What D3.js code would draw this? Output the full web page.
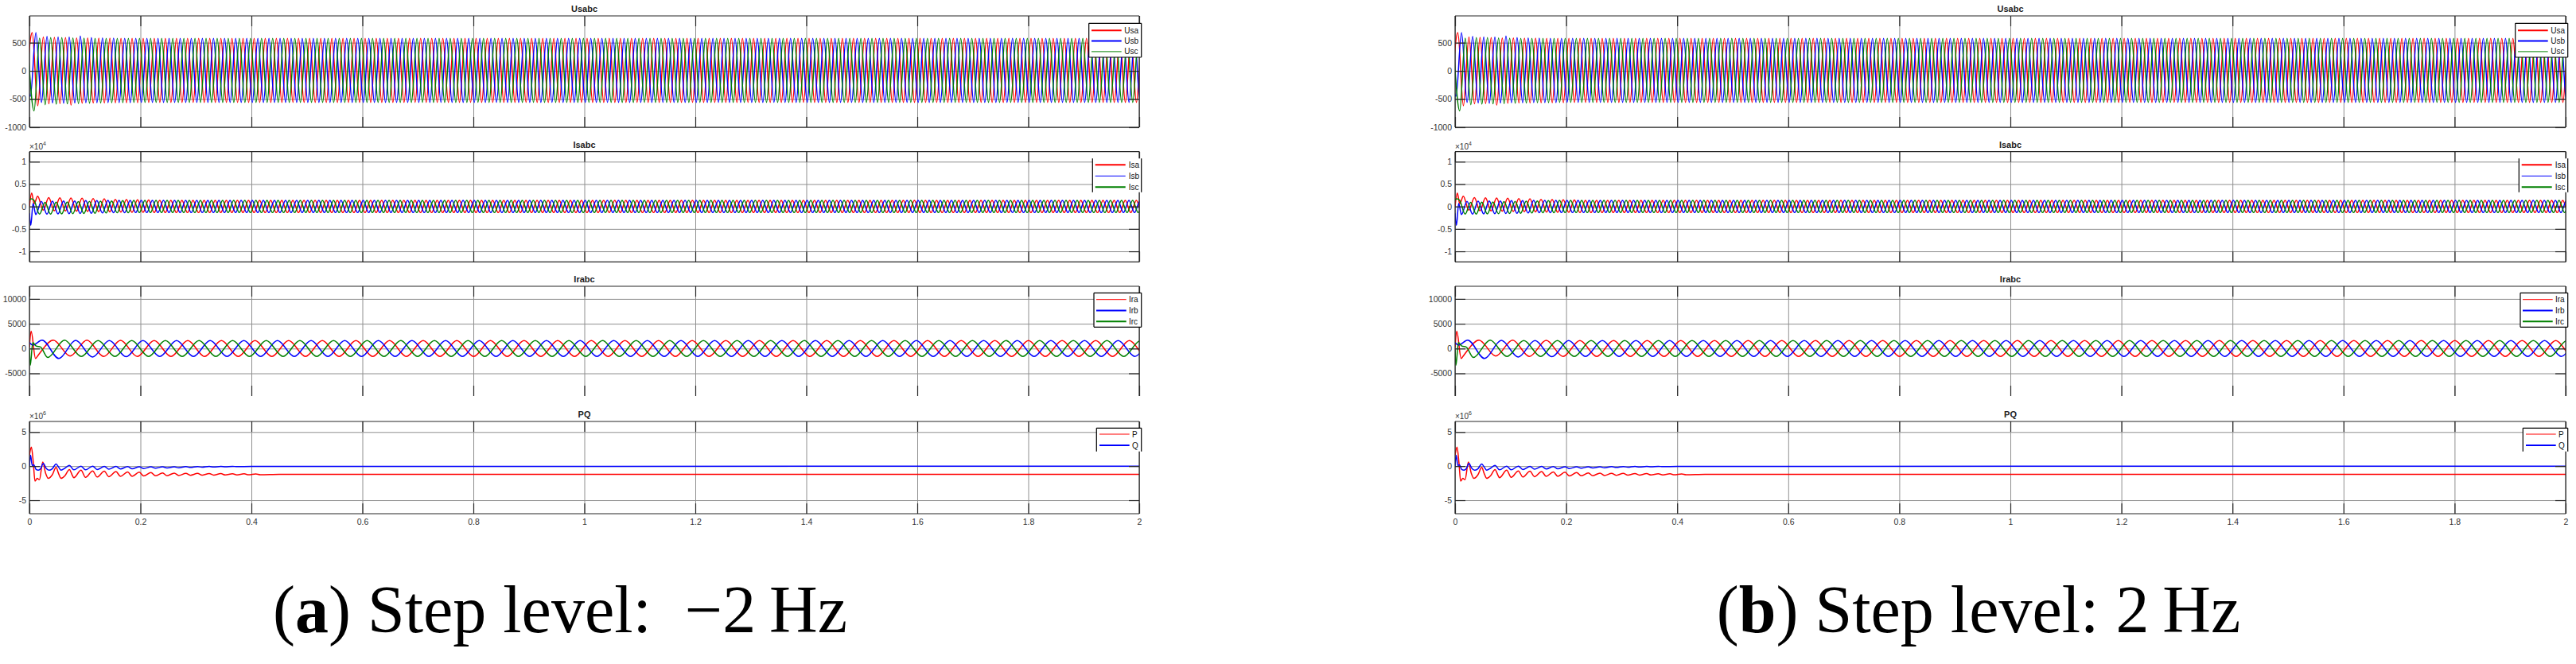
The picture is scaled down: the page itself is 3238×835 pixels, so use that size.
<!DOCTYPE html>
<html>
<head>
<meta charset="utf-8">
<script src="https://cdn.jsdelivr.net/npm/d3@7"></script>
<style>
html,body{margin:0;padding:0;background:#fff;}
svg{display:block;}
</style>
</head>
<body>
<svg id="chart" width="3238" height="835"></svg>
<script>
// ===================== DATA =====================
const xTicks = [0, 0.2, 0.4, 0.6, 0.8, 1, 1.2, 1.4, 1.6, 1.8, 2];
const xTickLabels = ["0","0.2","0.4","0.6","0.8","1","1.2","1.4","1.6","1.8","2"];
const panelTitles = ["Usabc", "Isabc", "Irabc", "PQ"];
const usTicks = [-1000, -500, 0, 500];
const isTicks = [-1, -0.5, 0, 0.5, 1];       // x10^4
const irTicks = [-5000, 0, 5000, 10000];
const pqTicks = [-5, 0, 5];                  // x10^6
const usNames = ["Usa", "Usb", "Usc"];
const isNames = ["Isa", "Isb", "Isc"];
const irNames = ["Ira", "Irb", "Irc"];
const pqNames = ["P", "Q"];
const captionLabels = ["a", "b"];
const captionTexts = ["Step level:\u2002\u22122\u2009Hz", "Step level: 2\u2009Hz"];

// Stator voltages: successive extrema, one every half period (0.01 s)
const usHalf = 0.01;
const usaFirst = -0.005, usbFirst = -0.00833, uscFirst = -0.00167;
const usaVals = [-180,680,-620,600,-585,595,-580,590,-610,585,-575,585,-570,580,-570,580,-565,578,-565,575,-563,
575,-560,575,-560,575,-560,575,-560,575,-560,575,-560,575,-560,575,-560,575,-560,575,-560,
575,-560,575,-560,575,-560,575,-560,575,-560,575,-560,575,-560,575,-560,575,-560,575,-560,
575,-560,575,-560,575,-560,575,-560,575,-560,575,-560,575,-560,575,-560,575,-560,575,-560,
575,-560,575,-560,575,-560,575,-560,575,-560,575,-560,575,-560,575,-560,575,-560,575,-560,
575,-560,575,-560,575,-560,575,-560,575,-560,575,-560,575,-560,575,-560,575,-560,575,-560,
575,-560,575,-560,575,-560,575,-560,575,-560,575,-560,575,-560,575,-560,575,-560,575,-560,
575,-560,575,-560,575,-560,575,-560,575,-560,575,-560,575,-560,575,-560,575,-560,575,-560,
575,-560,575,-560,575,-560,575,-560,575,-560,575,-560,575,-560,575,-560,575,-560,575,-560,
575,-560,575,-560,575,-560,575,-560,575,-560,575,-560,575,-560,575,-560,575,-560,575,-560,
575,-560,575];
const usbVals = [200,-450,680,-560,610,-570,600,-575,600,-570,620,-565,590,-565,585,-563,580,-563,578,-563,575,
-560,575,-560,575,-560,575,-560,575,-560,575,-560,575,-560,575,-560,575,-560,575,-560,575,
-560,575,-560,575,-560,575,-560,575,-560,575,-560,575,-560,575,-560,575,-560,575,-560,575,
-560,575,-560,575,-560,575,-560,575,-560,575,-560,575,-560,575,-560,575,-560,575,-560,575,
-560,575,-560,575,-560,575,-560,575,-560,575,-560,575,-560,575,-560,575,-560,575,-560,575,
-560,575,-560,575,-560,575,-560,575,-560,575,-560,575,-560,575,-560,575,-560,575,-560,575,
-560,575,-560,575,-560,575,-560,575,-560,575,-560,575,-560,575,-560,575,-560,575,-560,575,
-560,575,-560,575,-560,575,-560,575,-560,575,-560,575,-560,575,-560,575,-560,575,-560,575,
-560,575,-560,575,-560,575,-560,575,-560,575,-560,575,-560,575,-560,575,-560,575,-560,575,
-560,575,-560,575,-560,575,-560,575,-560,575,-560,575,-560,575,-560,575,-560,575,-560,575,
-560,575,-560];
const uscVals = [250,-710,580,-600,590,-590,590,-585,585,-580,580,-575,578,-570,575,-565,575,-563,575,-560,575,
-560,575,-560,575,-560,575,-560,575,-560,575,-560,575,-560,575,-560,575,-560,575,-560,575,
-560,575,-560,575,-560,575,-560,575,-560,575,-560,575,-560,575,-560,575,-560,575,-560,575,
-560,575,-560,575,-560,575,-560,575,-560,575,-560,575,-560,575,-560,575,-560,575,-560,575,
-560,575,-560,575,-560,575,-560,575,-560,575,-560,575,-560,575,-560,575,-560,575,-560,575,
-560,575,-560,575,-560,575,-560,575,-560,575,-560,575,-560,575,-560,575,-560,575,-560,575,
-560,575,-560,575,-560,575,-560,575,-560,575,-560,575,-560,575,-560,575,-560,575,-560,575,
-560,575,-560,575,-560,575,-560,575,-560,575,-560,575,-560,575,-560,575,-560,575,-560,575,
-560,575,-560,575,-560,575,-560,575,-560,575,-560,575,-560,575,-560,575,-560,575,-560,575,
-560,575,-560,575,-560,575,-560,575,-560,575,-560,575,-560,575,-560,575,-560,575,-560,575,
-560,575,-560];

// Stator currents (A): start-up points, then extrema every 0.01 s
const isHalf = 0.01;
const isaHead = [[0,0],[0.004,3000],[0.0085,600]];
const isbHead = [[0,-1500],[0.0025,-4200],[0.0065,700]];
const iscHead = [[0,1500],[0.003,1700]];
const isaFirst = 0.0148, isbFirst = 0.0115, iscFirst = 0.0081;
const isaVals = [2300,-800,2000,-950,1950,-1000,1900,-1050,1850,-1100,1750,-1150,1700,-1200,1600,-1250,1550,-1300,1500,-1300,1450,
-1350,1350,-1350,1350,-1350,1350,-1350,1350,-1350,1350,-1350,1350,-1350,1350,-1350,1350,-1350,1350,-1350,1350,
-1350,1350,-1350,1350,-1350,1350,-1350,1350,-1350,1350,-1350,1350,-1350,1350,-1350,1350,-1350,1350,-1350,1350,
-1350,1350,-1350,1350,-1350,1350,-1350,1350,-1350,1350,-1350,1350,-1350,1350,-1350,1350,-1350,1350,-1350,1350,
-1350,1350,-1350,1350,-1350,1350,-1350,1350,-1350,1350,-1350,1350,-1350,1350,-1350,1350,-1350,1350,-1350,1350,
-1350,1350,-1350,1350,-1350,1350,-1350,1350,-1350,1350,-1350,1350,-1350,1350,-1350,1350,-1350,1350,-1350,1350,
-1350,1350,-1350,1350,-1350,1350,-1350,1350,-1350,1350,-1350,1350,-1350,1350,-1350,1350,-1350,1350,-1350,1350,
-1350,1350,-1350,1350,-1350,1350,-1350,1350,-1350,1350,-1350,1350,-1350,1350,-1350,1350,-1350,1350,-1350,1350,
-1350,1350,-1350,1350,-1350,1350,-1350,1350,-1350,1350,-1350,1350,-1350,1350,-1350,1350,-1350,1350,-1350,1350,
-1350,1350,-1350,1350,-1350,1350,-1350,1350,-1350,1350,-1350,1350,-1350,1350,-1350,1350,-1350,1350,-1350,1350,
-1350,1350];
const isbVals = [-1800,1150,-1700,1200,-1650,1250,-1600,1250,-1550,1300,-1500,1300,-1450,1350,-1400,1350,-1400,1350,-1350,1350,
-1350,1350,-1350,1350,-1350,1350,-1350,1350,-1350,1350,-1350,1350,-1350,1350,-1350,1350,-1350,1350,-1350,1350,
-1350,1350,-1350,1350,-1350,1350,-1350,1350,-1350,1350,-1350,1350,-1350,1350,-1350,1350,-1350,1350,-1350,1350,
-1350,1350,-1350,1350,-1350,1350,-1350,1350,-1350,1350,-1350,1350,-1350,1350,-1350,1350,-1350,1350,-1350,1350,
-1350,1350,-1350,1350,-1350,1350,-1350,1350,-1350,1350,-1350,1350,-1350,1350,-1350,1350,-1350,1350,-1350,1350,
-1350,1350,-1350,1350,-1350,1350,-1350,1350,-1350,1350,-1350,1350,-1350,1350,-1350,1350,-1350,1350,-1350,1350,
-1350,1350,-1350,1350,-1350,1350,-1350,1350,-1350,1350,-1350,1350,-1350,1350,-1350,1350,-1350,1350,-1350,1350,
-1350,1350,-1350,1350,-1350,1350,-1350,1350,-1350,1350,-1350,1350,-1350,1350,-1350,1350,-1350,1350,-1350,1350,
-1350,1350,-1350,1350,-1350,1350,-1350,1350,-1350,1350,-1350,1350,-1350,1350,-1350,1350,-1350,1350,-1350,1350,
-1350,1350,-1350,1350,-1350,1350,-1350,1350,-1350,1350,-1350,1350,-1350,1350,-1350,1350,-1350,1350,-1350,1350,
-1350,1350];
const iscVals = [1400,-1700,900,-1700,950,-1650,1000,-1600,1100,-1550,1150,-1500,1200,-1450,1250,-1400,1300,-1400,1350,-1350,
1350,-1350,1350,-1350,1350,-1350,1350,-1350,1350,-1350,1350,-1350,1350,-1350,1350,-1350,1350,-1350,1350,-1350,
1350,-1350,1350,-1350,1350,-1350,1350,-1350,1350,-1350,1350,-1350,1350,-1350,1350,-1350,1350,-1350,1350,-1350,
1350,-1350,1350,-1350,1350,-1350,1350,-1350,1350,-1350,1350,-1350,1350,-1350,1350,-1350,1350,-1350,1350,-1350,
1350,-1350,1350,-1350,1350,-1350,1350,-1350,1350,-1350,1350,-1350,1350,-1350,1350,-1350,1350,-1350,1350,-1350,
1350,-1350,1350,-1350,1350,-1350,1350,-1350,1350,-1350,1350,-1350,1350,-1350,1350,-1350,1350,-1350,1350,-1350,
1350,-1350,1350,-1350,1350,-1350,1350,-1350,1350,-1350,1350,-1350,1350,-1350,1350,-1350,1350,-1350,1350,-1350,
1350,-1350,1350,-1350,1350,-1350,1350,-1350,1350,-1350,1350,-1350,1350,-1350,1350,-1350,1350,-1350,1350,-1350,
1350,-1350,1350,-1350,1350,-1350,1350,-1350,1350,-1350,1350,-1350,1350,-1350,1350,-1350,1350,-1350,1350,-1350,
1350,-1350,1350,-1350,1350,-1350,1350,-1350,1350,-1350,1350,-1350,1350,-1350,1350,-1350,1350,-1350,1350,-1350,
1350,-1350,1350];

// Rotor currents (A): start-up points, then extrema every half rotor period
const irHalf = 0.0303;
const iraHead = [[0,300],[0.003,3500],[0.011,-2000],[0.016,-1300]];
const irbHead = [[0,1200],[0.006,700]];
const ircHead = [[0,-200],[0.0015,-3400],[0.006,1200],[0.012,500],[0.02,300]];
const iraFirst = 0.043, irbFirst = 0.0228, ircFirst = 0.0329;
const iraVals = [1700,-1500,1700,-1600,1650,
-1600,1600,-1600,1600,-1600,1600,-1600,1600,-1600,1600,-1600,1600,-1600,1600,-1600,1600,-1600,1600,-1600,1600,
-1600,1600,-1600,1600,-1600,1600,-1600,1600,-1600,1600,-1600,1600,-1600,1600,-1600,1600,-1600,1600,-1600,1600,
-1600,1600,-1600,1600,-1600,1600,-1600,1600,-1600,1600,-1600,1600,-1600,1600,-1600,1600,-1600,1600,-1600,1600,
-1600,1600,-1600];
const irbVals = [1700,-2000,1650,-1700,1600,-1650,
1600,-1600,1600,-1600,1600,-1600,1600,-1600,1600,-1600,1600,-1600,1600,-1600,1600,-1600,1600,-1600,1600,-1600,
1600,-1600,1600,-1600,1600,-1600,1600,-1600,1600,-1600,1600,-1600,1600,-1600,1600,-1600,1600,-1600,1600,-1600,
1600,-1600,1600,-1600,1600,-1600,1600,-1600,1600,-1600,1600,-1600,1600,-1600,1600,-1600,1600,-1600,1600,-1600,
1600,-1600,1600];
const ircVals = [-1800,1700,-1600,
1600,-1600,1600,-1600,1600,-1600,1600,-1600,1600,-1600,1600,-1600,1600,-1600,1600,-1600,1600,-1600,1600,-1600,
1600,-1600,1600,-1600,1600,-1600,1600,-1600,1600,-1600,1600,-1600,1600,-1600,1600,-1600,1600,-1600,1600,-1600,
1600,-1600,1600,-1600,1600,-1600,1600,-1600,1600,-1600,1600,-1600,1600,-1600,1600,-1600,1600,-1600,1600,-1600,
1600,-1600,1600,-1600];

// Active / reactive power (x10^6): [time s, value]
const pPoints = [[0,1.6],[0.0035,2.8],[0.007,0.5],[0.010,-2.2],[0.014,-1.8],[0.018,-2.0],[0.024,0.6],[0.029,-1.0],
[0.034,-1.8],[0.041,-1.3],[0.048,-0.2],[0.053,-1.2],[0.057,-1.8],[0.064,-1.4],[0.072,-0.5],[0.077,-1.3],[0.080,-1.7],
[0.093,-0.6],[0.101,-1.65],[0.114,-0.7],[0.122,-1.6],[0.135,-0.75],[0.143,-1.55],[0.156,-0.8],[0.164,-1.5],
[0.177,-0.85],[0.185,-1.5],[0.198,-0.9],[0.206,-1.45],[0.219,-0.95],[0.227,-1.42],[0.240,-1.0],[0.248,-1.4],
[0.261,-1.02],[0.269,-1.38],[0.282,-1.05],[0.290,-1.35],[0.303,-1.07],[0.311,-1.33],[0.324,-1.08],[0.332,-1.32],
[0.345,-1.1],[0.353,-1.3],[0.366,-1.12],[0.374,-1.28],[0.387,-1.13],[0.395,-1.27],[0.408,-1.14],[0.416,-1.26],
[0.45,-1.2],[2.0,-1.2]];
const qPoints = [[0,0],[0.002,1.6],[0.005,0.1],[0.008,0.2],[0.012,-0.5],[0.016,-0.6],[0.020,-0.4],[0.025,0.4],
[0.030,-0.3],[0.035,-0.6],[0.041,-0.4],[0.048,0.3],[0.053,-0.2],[0.057,-0.6],[0.064,-0.3],[0.072,0.1],[0.080,-0.55],
[0.093,0.0],[0.101,-0.55],[0.114,0.0],[0.122,-0.5],[0.135,-0.05],[0.143,-0.45],[0.156,-0.05],[0.164,-0.42],
[0.177,-0.08],[0.185,-0.4],[0.198,-0.1],[0.206,-0.35],[0.219,-0.1],[0.227,-0.3],[0.240,-0.1],[0.248,-0.28],
[0.261,-0.1],[0.269,-0.25],[0.282,-0.08],[0.290,-0.2],[0.303,-0.06],[0.311,-0.17],[0.324,-0.05],[0.332,-0.14],
[0.345,-0.04],[0.353,-0.1],[0.366,-0.03],[0.374,-0.08],[0.40,-0.03],[2.0,-0.02]];

// ===================== RENDER =====================
const svg = d3.select("#chart");
const COL = {r:"#ff0000", b:"#0000ff", g:"#008000"};
const axisColor = "#262626", gridColor = "#8f8f8f";
const sans = "'Liberation Sans', Arial, Helvetica, sans-serif";
const serif = "'Liberation Serif', 'Times New Roman', serif";

function wave(head, first, half, vals) {
  return head.concat(vals.map((v, i) => [first + i * half, v]));
}

const rowsDef = [
  { title: panelTitles[0], top: 20, bottom: 160, domain: [-1000, 975], ticks: usTicks, labels: usTicks.map(String), exp: null,
    series: [wave([], usaFirst, usHalf, usaVals), wave([], usbFirst, usHalf, usbVals), wave([], uscFirst, usHalf, uscVals)],
    names: usNames, colors: [COL.r, COL.b, COL.g], lw: [2, 2, 1],
    leg: { left: 63.3, top: 9.3, h: 42.7, row0: 9, dy: 13.3, l0: 3.3, l1: 41, tx: 44.6, sides: "tlrb" } },
  { title: panelTitles[1], top: 190.7, bottom: 329.3, domain: [-12350, 12240], ticks: isTicks.map(d => d * 1e4), labels: isTicks.map(String), exp: "4",
    series: [wave(isaHead, isaFirst, isHalf, isaVals), wave(isbHead, isbFirst, isHalf, isbVals), wave(iscHead, iscFirst, isHalf, iscVals)],
    names: isNames, colors: [COL.r, COL.b, COL.g], lw: [2, 1, 2],
    leg: { left: 58.7, top: 8.6, h: 42.4, row0: 8, dy: 14, l0: 3.4, l1: 41.4, tx: 45.4, sides: "lr" } },
  { title: panelTitles[2], top: 360, bottom: 498, domain: [-9567, 12548], ticks: irTicks, labels: irTicks.map(String), exp: null,
    series: [wave(iraHead, iraFirst, irHalf, iraVals), wave(irbHead, irbFirst, irHalf, irbVals), wave(ircHead, ircFirst, irHalf, ircVals)],
    names: irNames, colors: [COL.r, COL.b, COL.g], lw: [1, 2, 2],
    leg: { left: 57, top: 8.3, h: 43, row0: 8.4, dy: 13.8, l0: 3, l1: 40.7, tx: 44, sides: "tlrb" }, noBottom: true },
  { title: panelTitles[3], top: 530, bottom: 646, domain: [-6.98, 6.55], ticks: pqTicks, labels: pqTicks.map(String), exp: "6",
    series: [pPoints, qPoints],
    names: pqNames, colors: [COL.r, COL.b], lw: [1, 2],
    leg: { left: 53.7, top: 8.3, h: 29.4, row0: 7.7, dy: 14, l0: 3.7, l1: 41.4, tx: 44.7, sides: "tlr" } }
];

const panels = [ { x0: 37, x1: 1432, cx: 704 }, { x0: 1829, x1: 3225, cx: 2487 } ];

panels.forEach((p, pi) => {
  const g = svg.append("g");
  const x = d3.scaleLinear().domain([0, 2]).range([p.x0, p.x1]);
  const W = p.x1 - p.x0;

  rowsDef.forEach((row, ri) => {
    const y = d3.scaleLinear().domain(row.domain).range([row.bottom, row.top]);
    const Hh = row.bottom - row.top;
    const rg = g.append("g");

    // grid
    rg.append("g").attr("transform", `translate(${p.x0},0)`)
      .call(d3.axisLeft(y).tickValues(row.ticks).tickSize(-W).tickFormat(""))
      .call(s => { s.select(".domain").remove(); s.selectAll("line").attr("stroke", gridColor).attr("stroke-width", 1); });
    rg.append("g").attr("transform", `translate(0,${row.bottom})`)
      .call(d3.axisBottom(x).tickValues(xTicks).tickSize(-Hh).tickFormat(""))
      .call(s => { s.select(".domain").remove(); s.selectAll("line").attr("stroke", gridColor).attr("stroke-width", 1); });

    // data
    const cid = `clip-${pi}-${ri}`;
    rg.append("clipPath").attr("id", cid).append("rect")
      .attr("x", p.x0).attr("y", row.top).attr("width", W).attr("height", Hh);
    const line = d3.line().x(d => x(d[0])).y(d => y(d[1])).curve(d3.curveMonotoneX);
    const dg = rg.append("g").attr("clip-path", `url(#${cid})`);
    row.series.forEach((s, si) => {
      dg.append("path").attr("d", line(s)).attr("fill", "none")
        .attr("stroke", row.colors[si]).attr("stroke-width", 1.5).attr("stroke-linejoin", "round");
    });

    // box
    const bx = rg.append("g").attr("stroke", axisColor).attr("stroke-width", 1.2).attr("fill", "none");
    bx.append("line").attr("x1", p.x0).attr("x2", p.x1).attr("y1", row.top).attr("y2", row.top);
    bx.append("line").attr("x1", p.x0).attr("x2", p.x0).attr("y1", row.top).attr("y2", row.bottom);
    bx.append("line").attr("x1", p.x1).attr("x2", p.x1).attr("y1", row.top).attr("y2", row.bottom);
    if (!row.noBottom) bx.append("line").attr("x1", p.x0).attr("x2", p.x1).attr("y1", row.bottom).attr("y2", row.bottom);

    // ticks (inward) and labels
    const styleAx = s => { s.select(".domain").remove(); s.selectAll("line").attr("stroke", axisColor).attr("stroke-width", 1.2);
      s.selectAll("text").attr("fill", "#333").attr("font-family", sans).attr("font-size", 10.5); };
    rg.append("g").attr("transform", `translate(${p.x0},0)`)
      .call(d3.axisLeft(y).tickValues(row.ticks).tickSize(-13).tickPadding(4).tickFormat((d, i) => row.labels[i]))
      .call(styleAx);
    rg.append("g").attr("transform", `translate(${p.x1},0)`)
      .call(d3.axisRight(y).tickValues(row.ticks).tickSize(-13).tickFormat(""))
      .call(styleAx);
    rg.append("g").attr("transform", `translate(0,${row.top})`)
      .call(d3.axisTop(x).tickValues(xTicks).tickSize(-13).tickFormat(""))
      .call(styleAx);
    const isLast = ri === rowsDef.length - 1;
    rg.append("g").attr("transform", `translate(0,${row.bottom})`)
      .call(d3.axisBottom(x).tickValues(xTicks).tickSize(-13).tickPadding(7)
        .tickFormat((d, i) => isLast ? xTickLabels[i] : ""))
      .call(styleAx);

    // title
    rg.append("text").attr("x", (p.x0 + p.x1) / 2).attr("y", row.top - 5)
      .attr("text-anchor", "middle").attr("font-family", sans).attr("font-size", 11)
      .attr("font-weight", "bold").attr("fill", "#222").text(row.title);

    // exponent label
    if (row.exp) {
      const t = rg.append("text").attr("x", p.x0).attr("y", row.top - 3)
        .attr("font-family", sans).attr("font-size", 10).attr("fill", "#333");
      t.append("tspan").text("\u00d710");
      t.append("tspan").attr("dy", -5).attr("font-size", 7).text(row.exp);
    }

    // legend
    const L = row.leg;
    const lx = p.x1 - L.left, ly = row.top + L.top, lw = L.left + 2.7;
    const lg = rg.append("g");
    lg.append("rect").attr("x", lx).attr("y", ly).attr("width", lw).attr("height", L.h).attr("fill", "#fff");
    const side = (x1, y1, x2, y2) => lg.append("line").attr("x1", x1).attr("y1", y1).attr("x2", x2).attr("y2", y2)
      .attr("stroke", "#000").attr("stroke-width", 1.2);
    if (L.sides.includes("t")) side(lx, ly, lx + lw, ly);
    if (L.sides.includes("b")) side(lx, ly + L.h, lx + lw, ly + L.h);
    if (L.sides.includes("l")) side(lx, ly, lx, ly + L.h);
    if (L.sides.includes("r")) side(lx + lw, ly, lx + lw, ly + L.h);
    row.names.forEach((n, i) => {
      const yy = ly + L.row0 + i * L.dy;
      lg.append("line").attr("x1", lx + L.l0).attr("x2", lx + L.l1).attr("y1", yy).attr("y2", yy)
        .attr("stroke", row.colors[i]).attr("stroke-width", row.lw[i]);
      lg.append("text").attr("x", lx + L.tx).attr("y", yy).attr("dy", "0.35em")
        .attr("font-family", sans).attr("font-size", 10).attr("fill", "#111").text(n);
    });
  });

  // caption
  const ct = svg.append("text").attr("x", p.cx).attr("y", 795).attr("text-anchor", "middle")
    .attr("font-family", serif).attr("font-size", 84).attr("fill", "#000");
  ct.append("tspan").text("(");
  ct.append("tspan").attr("font-weight", "bold").text(captionLabels[pi]);
  ct.append("tspan").text(") " + captionTexts[pi]);
});
</script>
</body>
</html>
